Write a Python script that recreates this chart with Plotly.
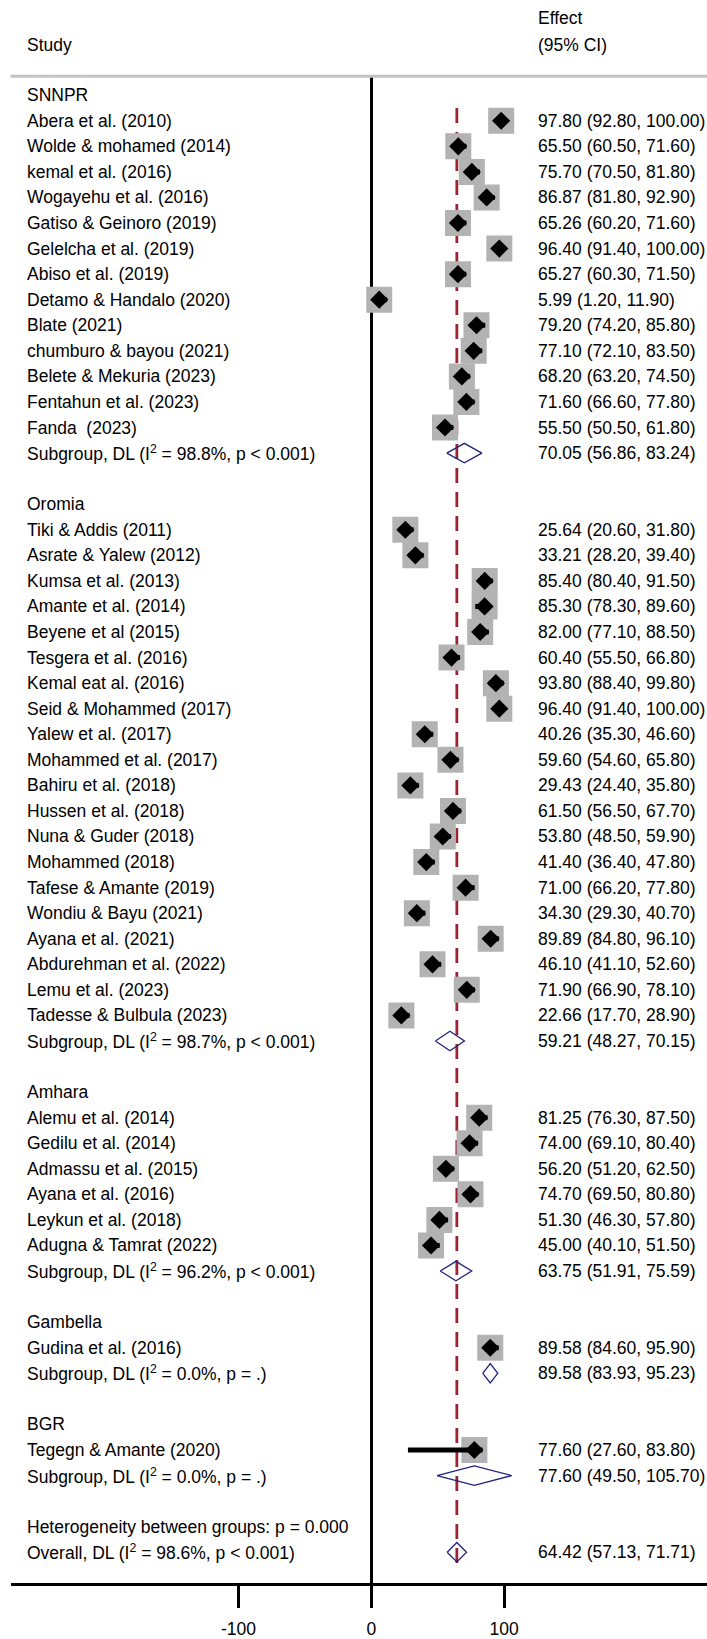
import plotly.graph_objects as go

# ---- data -------------------------------------------------------------
groups = ["SNNPR", "Oromia", "Amhara", "Gambella", "BGR"]

snnpr_studies = [
    "Abera et al. (2010)", "Wolde & mohamed (2014)", "kemal et al. (2016)",
    "Wogayehu et al. (2016)", "Gatiso & Geinoro (2019)", "Gelelcha et al. (2019)",
    "Abiso et al. (2019)", "Detamo & Handalo (2020)", "Blate (2021)",
    "chumburo & bayou (2021)", "Belete & Mekuria (2023)", "Fentahun et al. (2023)",
    "Fanda&nbsp; (2023)",
]
snnpr_est = [97.80, 65.50, 75.70, 86.87, 65.26, 96.40, 65.27, 5.99, 79.20, 77.10, 68.20, 71.60, 55.50]
snnpr_lo = [92.80, 60.50, 70.50, 81.80, 60.20, 91.40, 60.30, 1.20, 74.20, 72.10, 63.20, 66.60, 50.50]
snnpr_hi = [100.00, 71.60, 81.80, 92.90, 71.60, 100.00, 71.50, 11.90, 85.80, 83.50, 74.50, 77.80, 61.80]

oromia_studies = [
    "Tiki & Addis (2011)", "Asrate & Yalew (2012)", "Kumsa et al. (2013)",
    "Amante et al. (2014)", "Beyene et al (2015)", "Tesgera et al. (2016)",
    "Kemal eat al. (2016)", "Seid & Mohammed (2017)", "Yalew et al. (2017)",
    "Mohammed et al. (2017)", "Bahiru et al. (2018)", "Hussen et al. (2018)",
    "Nuna & Guder (2018)", "Mohammed (2018)", "Tafese & Amante (2019)",
    "Wondiu & Bayu (2021)", "Ayana et al. (2021)", "Abdurehman et al. (2022)",
    "Lemu et al. (2023)", "Tadesse & Bulbula (2023)",
]
oromia_est = [25.64, 33.21, 85.40, 85.30, 82.00, 60.40, 93.80, 96.40, 40.26, 59.60,
              29.43, 61.50, 53.80, 41.40, 71.00, 34.30, 89.89, 46.10, 71.90, 22.66]
oromia_lo = [20.60, 28.20, 80.40, 78.30, 77.10, 55.50, 88.40, 91.40, 35.30, 54.60,
             24.40, 56.50, 48.50, 36.40, 66.20, 29.30, 84.80, 41.10, 66.90, 17.70]
oromia_hi = [31.80, 39.40, 91.50, 89.60, 88.50, 66.80, 99.80, 100.00, 46.60, 65.80,
             35.80, 67.70, 59.90, 47.80, 77.80, 40.70, 96.10, 52.60, 78.10, 28.90]

amhara_studies = [
    "Alemu et al. (2014)", "Gedilu et al. (2014)", "Admassu et al. (2015)",
    "Ayana et al. (2016)", "Leykun et al. (2018)", "Adugna & Tamrat (2022)",
]
amhara_est = [81.25, 74.00, 56.20, 74.70, 51.30, 45.00]
amhara_lo = [76.30, 69.10, 51.20, 69.50, 46.30, 40.10]
amhara_hi = [87.50, 80.40, 62.50, 80.80, 57.80, 51.50]

gambella_studies = ["Gudina et al. (2016)"]
gambella_est = [89.58]
gambella_lo = [84.60]
gambella_hi = [95.90]

bgr_studies = ["Tegegn & Amante (2020)"]
bgr_est = [77.60]
bgr_lo = [27.60]
bgr_hi = [83.80]

sub_i2 = [98.8, 98.7, 96.2, 0.0, 0.0]
sub_p = ["< 0.001", "< 0.001", "< 0.001", "= .", "= ."]
sub_est = [70.05, 59.21, 63.75, 89.58, 77.60]
sub_lo = [56.86, 48.27, 51.91, 83.93, 49.50]
sub_hi = [83.24, 70.15, 75.59, 95.23, 105.70]

het_p = "0.000"
overall_i2 = 98.6
overall_p = "< 0.001"
overall_est = 64.42
overall_lo = 57.13
overall_hi = 71.71

axis_ticks = [-100, 0, 100]

# ---- row layout ---------------------------------------------------------
group_studies = [snnpr_studies, oromia_studies, amhara_studies, gambella_studies, bgr_studies]
group_est = [snnpr_est, oromia_est, amhara_est, gambella_est, bgr_est]
group_lo = [snnpr_lo, oromia_lo, amhara_lo, gambella_lo, bgr_lo]
group_hi = [snnpr_hi, oromia_hi, amhara_hi, gambella_hi, bgr_hi]


def ci_text(e, lo, hi):
    return f"{e:.2f} ({lo:.2f}, {hi:.2f})"


labels = []        # (row, left text, right text)
study_rows, study_e, study_l, study_h = [], [], [], []
pool_rows, pool_e, pool_l, pool_h = [], [], [], []

r = 0
for g, gname in enumerate(groups):
    labels.append((r, gname, ""))
    r += 1
    for s, e, lo, hi in zip(group_studies[g], group_est[g], group_lo[g], group_hi[g]):
        labels.append((r, s, ci_text(e, lo, hi)))
        study_rows.append(r); study_e.append(e); study_l.append(lo); study_h.append(hi)
        r += 1
    labels.append((r, f"Subgroup, DL (I<sup>2</sup> = {sub_i2[g]:.1f}%, p {sub_p[g]})",
                   ci_text(sub_est[g], sub_lo[g], sub_hi[g])))
    pool_rows.append(r); pool_e.append(sub_est[g]); pool_l.append(sub_lo[g]); pool_h.append(sub_hi[g])
    r += 2
labels.append((r, f"Heterogeneity between groups: p = {het_p}", ""))
r += 1
labels.append((r, f"Overall, DL (I<sup>2</sup> = {overall_i2:.1f}%, p {overall_p})",
               ci_text(overall_est, overall_lo, overall_hi)))
pool_rows.append(r); pool_e.append(overall_est); pool_l.append(overall_lo); pool_h.append(overall_hi)
last_row = r

# ---- figure -------------------------------------------------------------
W, H = 707, 1639
FONT = "Liberation Sans, Arial, Helvetica, sans-serif"
FS = 17.5
NAVY = "#1f237a"
RED = "#9b2535"
BOX = "#b3b3b3"

fig = go.Figure()

# weight boxes
fig.add_trace(go.Scatter(
    x=study_e, y=study_rows, mode="markers",
    marker=dict(symbol="square", size=24, color=BOX, line=dict(color=BOX, width=2)),
    hoverinfo="skip", showlegend=False))

# study confidence intervals
ci_x, ci_y = [], []
for yy, lo, hi in zip(study_rows, study_l, study_h):
    ci_x += [lo, hi, None]
    ci_y += [yy, yy, None]
fig.add_trace(go.Scatter(
    x=ci_x, y=ci_y, mode="lines", line=dict(color="black", width=5),
    hoverinfo="skip", showlegend=False))

# point estimates
fig.add_trace(go.Scatter(
    x=study_e, y=study_rows, mode="markers",
    marker=dict(symbol="diamond", size=14, color="black", line=dict(width=0)),
    hoverinfo="skip", showlegend=False))

# pooled diamonds
dh = 0.38
dx, dy = [], []
for yy, e, lo, hi in zip(pool_rows, pool_e, pool_l, pool_h):
    dx += [lo, e, hi, e, lo, None]
    dy += [yy, yy - dh, yy, yy + dh, yy, None]
fig.add_trace(go.Scatter(
    x=dx, y=dy, mode="lines", line=dict(color=NAVY, width=1.3),
    hoverinfo="skip", showlegend=False))

# text columns
for row, left, right in labels:
    fig.add_annotation(x=25 / W, xref="paper", y=row, yref="y", text=left,
                       showarrow=False, xanchor="left", yanchor="middle",
                       font=dict(family=FONT, size=FS, color="black"))
    if right:
        fig.add_annotation(x=536 / W, xref="paper", y=row, yref="y", text=right,
                           showarrow=False, xanchor="left", yanchor="middle",
                           font=dict(family=FONT, size=FS, color="black"))

# column headers
for txt, px, py in [("Study", 25, 45), ("Effect", 536, 18), ("(95% CI)", 536, 45)]:
    fig.add_annotation(x=px / W, xref="paper", y=1 - py / H, yref="paper", text=txt,
                       showarrow=False, xanchor="left", yanchor="middle",
                       font=dict(family=FONT, size=FS, color="black"))

# overall effect reference line
fig.add_shape(type="line", xref="x", yref="y", x0=overall_est, x1=overall_est,
              y0=0.5, y1=last_row + 0.6, layer="below",
              line=dict(color=RED, width=2.8, dash="15px,9px"))

# header rule
fig.add_shape(type="line", xref="x domain", yref="y domain", x0=0, x1=1, y0=1, y1=1,
              line=dict(color="#c2c2c2", width=3))

x_left_px, x0_px, px_per_unit = 10.5, 371.3, 1.328
top_px, bottom_px, row0_px, row_h = 76.5, 1588, 95.5, 25.64

fig.update_layout(
    width=W, height=H, margin=dict(l=0, r=0, t=0, b=0),
    paper_bgcolor="white", plot_bgcolor="white", showlegend=False,
    xaxis=dict(
        domain=[x_left_px / W, 1],
        range=[(x_left_px - x0_px) / px_per_unit, (W - x0_px) / px_per_unit],
        showgrid=False, zeroline=True, zerolinecolor="black", zerolinewidth=2.5,
        showline=True, linecolor="black", linewidth=2.5,
        ticks="outside", ticklen=22, tickwidth=2.5, tickcolor="black",
        tickvals=axis_ticks, ticktext=[str(t) for t in axis_ticks],
        ticklabelstandoff=6,
        tickfont=dict(family=FONT, size=FS, color="black"),
    ),
    yaxis=dict(
        domain=[(H - bottom_px) / H, (H - top_px) / H],
        range=[last_row + (bottom_px - (row0_px + last_row * row_h)) / row_h,
               -(row0_px - top_px) / row_h],
        showgrid=False, zeroline=False, showline=False, showticklabels=False, ticks="",
    ),
)

fig.write_html("out.html")
